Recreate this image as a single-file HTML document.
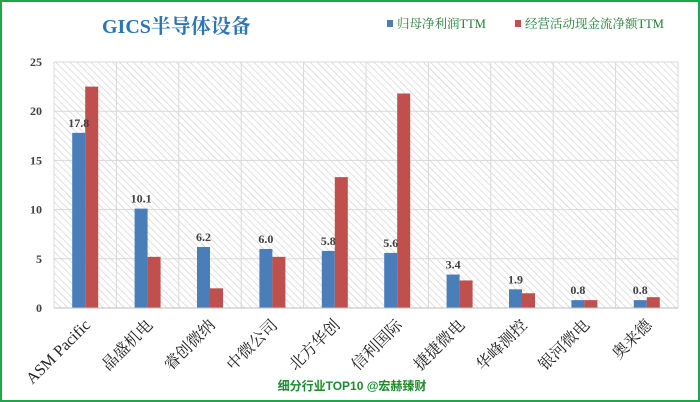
<!DOCTYPE html>
<html><head><meta charset="utf-8"><style>
body{margin:0;background:#fff}
#wrap{position:relative;width:700px;height:402px;box-sizing:border-box;border:2px solid #1aa84a;background:#fff;overflow:hidden}
svg{position:absolute;left:0;top:0}
</style></head><body>
<div id="wrap">
<svg id="chart" width="700" height="402">
<defs><pattern id="hatch" width="5" height="5" patternUnits="userSpaceOnUse" patternTransform="rotate(-45)"><rect width="5" height="5" fill="#fff"/><line x1="0" y1="0" x2="0" y2="5" stroke="#d4d4d4" stroke-width="1.4"/></pattern></defs>
<text x="100" y="31" font-family="Liberation Serif, Noto Serif CJK SC, serif" font-size="20" font-weight="bold" fill="#2e75b6">GICS半导体设备</text>
<g>
<rect x="385" y="18" width="6" height="7" fill="#4a7ebb"/>
<text x="395" y="26" font-family="Liberation Serif, Noto Serif CJK SC, serif" font-size="12.5" fill="#1e7a32">归母净利润TTM</text>
<rect x="513" y="18" width="6" height="7" fill="#c0504d"/>
<text x="523" y="26" font-family="Liberation Serif, Noto Serif CJK SC, serif" font-size="12.5" fill="#1e7a32">经营活动现金流净额TTM</text>
</g>
<text x="350" y="388" text-anchor="middle" font-family="Liberation Sans, Noto Sans CJK SC, sans-serif" font-size="12" font-weight="bold" fill="#1e8a2e">细分行业TOP10 @宏赫臻财</text>
</svg>
</div>
<script>
const categories=["ASM Pacific","晶盛机电","睿创微纳","中微公司","北方华创","信利国际","捷捷微电","华峰测控","银河微电","奥来德"];
const profitValues=[17.8,10.1,6.2,6.0,5.8,5.6,3.4,1.9,0.8,0.8];
const cashflowValues=[22.5,5.2,2.0,5.2,13.3,21.8,2.8,1.5,0.8,1.1];
const yTicks=[0,5,10,15,20,25];
const NS="http://www.w3.org/2000/svg";
const svg=document.getElementById('chart');
const L=52,R=676,T=60,B=306,yMax=25;
const bw=(R-L)/categories.length;
const y=v=>B-(v/yMax)*(B-T);
const xc=i=>L+bw*(i+0.5);
function mk(t,a){const e=document.createElementNS(NS,t);for(const k in a)e.setAttribute(k,a[k]);svg.appendChild(e);return e;}
const bg=mk('rect',{x:L,y:T,width:R-L,height:B-T,fill:'url(#hatch)'});


yTicks.forEach(t=>{
 const g=mk('line',{x1:L,x2:R,y1:y(t),y2:y(t),stroke:'#d9d9d9','stroke-width':1});
 
 
 const lb=mk('text',{x:L-12,y:y(t)+4,'text-anchor':'end','font-family':'Liberation Serif, serif','font-size':12,'font-weight':'bold',fill:'#404040'});
 lb.textContent=t;
 
 
});
for(let i=0;i<=categories.length;i++){
 const g=mk('line',{x1:L+bw*i,x2:L+bw*i,y1:T,y2:B,stroke:'#d9d9d9','stroke-width':1});
 
 
}
const barW=13;
categories.forEach((c,i)=>{
 const cx=xc(i);
 const b1=mk('rect',{x:cx-barW,y:y(profitValues[i]),width:barW,height:B-y(profitValues[i]),fill:'#4a7ebb'});
 
 
 const b2=mk('rect',{x:cx,y:y(cashflowValues[i]),width:barW,height:B-y(cashflowValues[i]),fill:'#c0504d'});
 
 
 const v=mk('text',{x:cx-barW/2,y:y(profitValues[i])-6,'text-anchor':'middle','font-family':'Liberation Serif, serif','font-size':12,'font-weight':'bold',fill:'#404040'});
 v.textContent=profitValues[i].toFixed(1);
 
 
 const lx=cx+6,ly=B+18;
 const xl=mk('text',{x:lx,y:ly,'text-anchor':'end','font-family':'Liberation Serif, Noto Serif CJK SC, serif','font-size':16,fill:'#222',transform:`rotate(-45 ${lx} ${ly})`});
 xl.textContent=c;
 
 
});
const ax=mk('line',{x1:L,x2:R,y1:B,y2:B,stroke:'#bfbfbf','stroke-width':1});


</script>
</body></html>
